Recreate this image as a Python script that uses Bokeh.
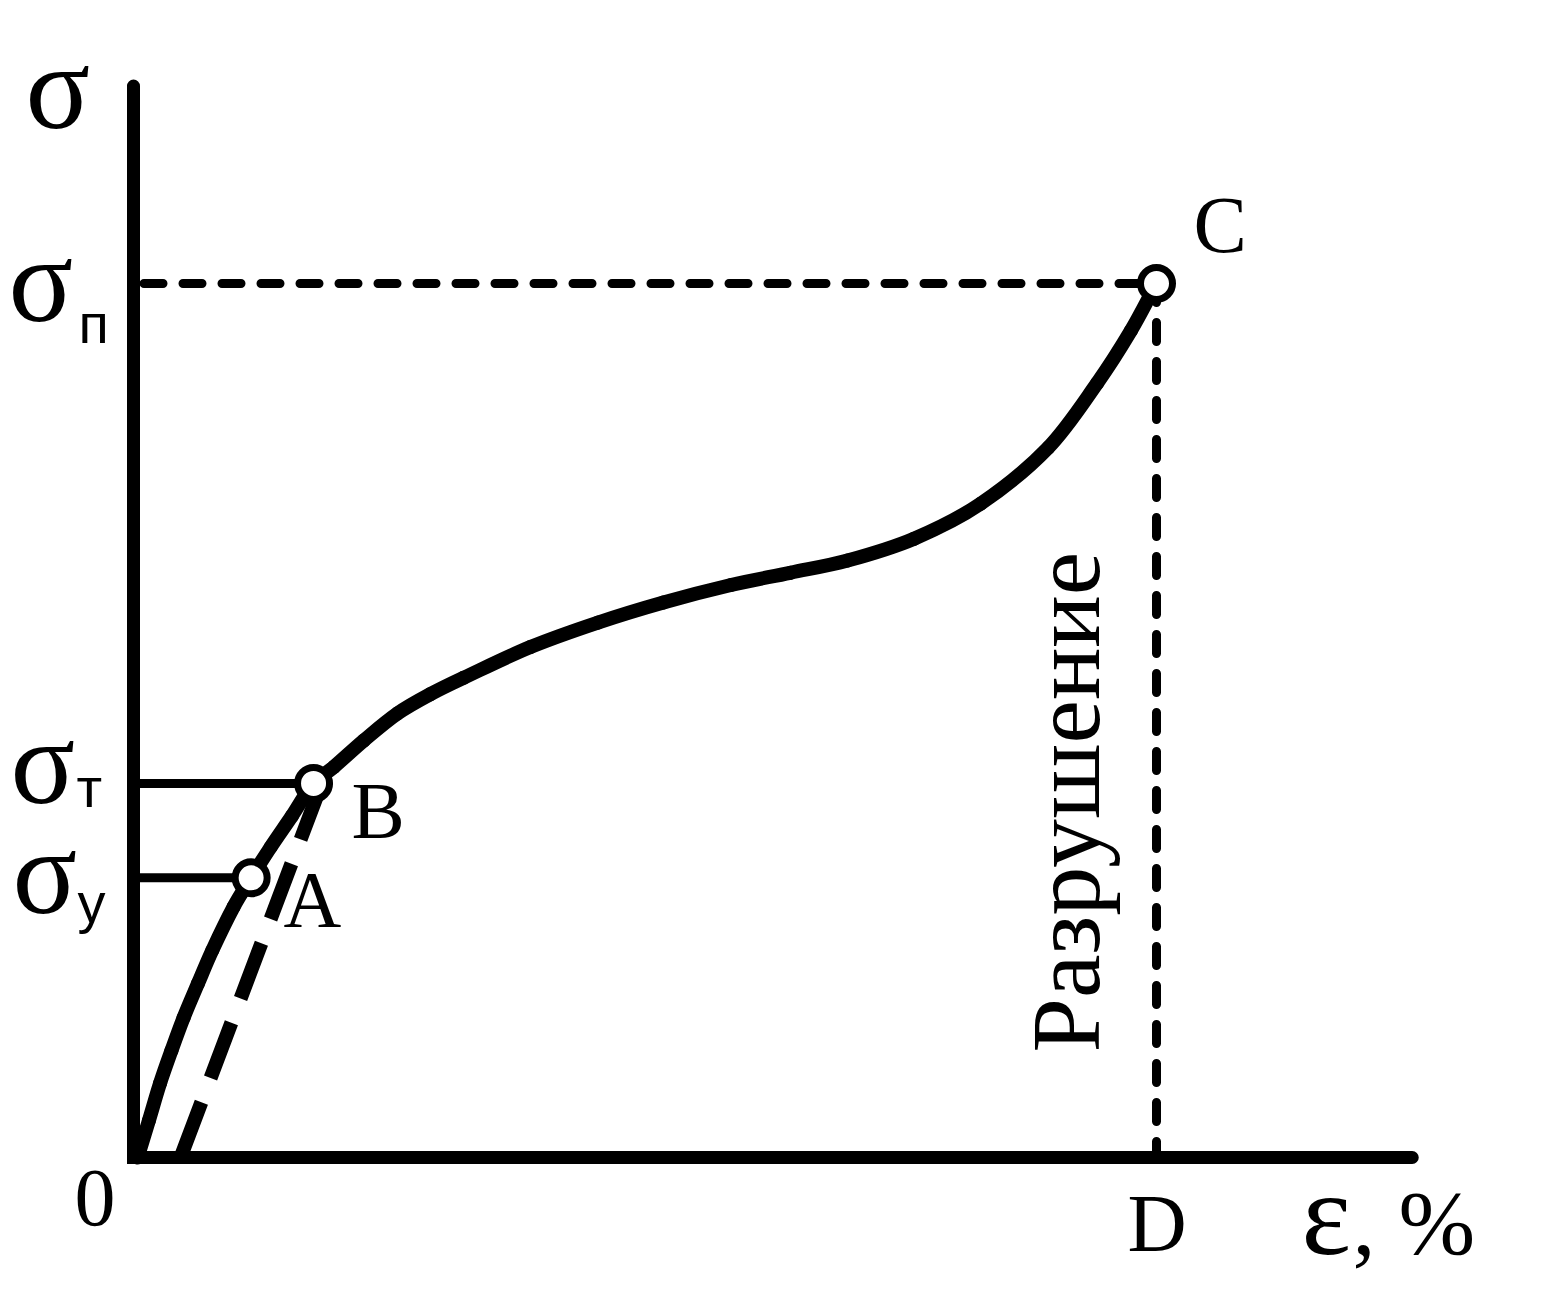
from bokeh.plotting import figure
from bokeh.models import Range1d
from bokeh.core.properties import value
from bokeh.embed import file_html
from bokeh.resources import INLINE

# ---- data (relative units: strain at fracture D = 100, ultimate stress σп = 100) ----
eps_curve = [0.4, 1.5, 2.6, 3.7, 4.9, 6.3, 7.7, 9.8, 11.5, 13.4, 15.5, 17.6, 19.6,
             22.5, 25.8, 29.0, 32.3, 38.8, 45.4, 51.8, 58.4, 64.2, 69.8, 76.3,
             82.8, 89.4, 94.2, 97.5, 100.0]
sig_curve = [0.0, 4.2, 8.5, 12.2, 16.0, 19.9, 23.7, 28.7, 32.0, 35.5, 39.1, 42.8, 44.7,
             47.7, 50.8, 53.0, 54.9, 58.4, 61.2, 63.5, 65.5, 66.9, 68.3, 70.8,
             74.8, 81.2, 88.6, 94.6, 100.0]

point_names = ["A", "B", "C"]
point_eps = [11.5, 17.6, 100.0]
point_sig = [32.0, 42.8, 100.0]

sigma_y = 32.0      # σу (A)
sigma_t = 42.8      # σт (B)
sigma_u = 100.0     # σп (C)
eps_D = 100.0       # D

elastic_eps = [4.6, 18.4]
elastic_sig = [0.0, 42.8]

axis_eps_max = 125.0
axis_sig_max = 122.6

# ---- pixel helpers for label placement only ----
SX, SY = 10.23, 8.74
def px2x(px):
    return (px - 133) / SX
def py2y(py):
    return (1157 - py) / SY

W, H = 1557, 1289
p = figure(width=W, height=H,
           x_range=Range1d(px2x(0), px2x(W)),
           y_range=Range1d(py2y(H), py2y(0)),
           min_border=0, toolbar_location=None, output_backend="svg",
           x_axis_location=None, y_axis_location=None)
p.grid.visible = False
p.outline_line_color = None
p.background_fill_color = "white"
p.border_fill_color = "white"

# axes
p.line([0, 0, axis_eps_max], [axis_sig_max, 0, 0], line_color="black",
       line_width=13, line_cap="round", line_join="miter")

# σу and σт levels
p.line([0, point_eps[0]], [sigma_y, sigma_y], line_color="black", line_width=9)
p.line([0, point_eps[1]], [sigma_t, sigma_t], line_color="black", line_width=9)

# σп dashed level and D dashed drop
p.line([px2x(143.5), eps_D], [sigma_u, sigma_u], line_color="black", line_width=9,
       line_dash="19 20", line_cap="round")
p.line([eps_D, eps_D], [sigma_u, 0], line_color="black", line_width=9,
       line_dash="19 20", line_cap="round")

# main curve: smooth rendering through the read points (chord-length cardinal
# spline drawn with bezier glyphs)
n = len(eps_curve)
t = [0.0]
for i in range(1, n):
    dx = (eps_curve[i] - eps_curve[i - 1]) * SX
    dy = (sig_curve[i] - sig_curve[i - 1]) * SY
    t.append(t[-1] + (dx * dx + dy * dy) ** 0.5)
mx, my = [], []
for i in range(n):
    a = max(i - 1, 0)
    d = min(i + 1, n - 1)
    mx.append((eps_curve[d] - eps_curve[a]) / (t[d] - t[a]))
    my.append((sig_curve[d] - sig_curve[a]) / (t[d] - t[a]))
x0s, y0s, x1s, y1s, cx0s, cy0s, cx1s, cy1s = [], [], [], [], [], [], [], []
for i in range(n - 1):
    h = (t[i + 1] - t[i]) / 3
    x0s.append(eps_curve[i]); y0s.append(sig_curve[i])
    x1s.append(eps_curve[i + 1]); y1s.append(sig_curve[i + 1])
    cx0s.append(eps_curve[i] + mx[i] * h)
    cy0s.append(sig_curve[i] + my[i] * h)
    cx1s.append(eps_curve[i + 1] - mx[i + 1] * h)
    cy1s.append(sig_curve[i + 1] - my[i + 1] * h)
p.bezier(x0=x0s, y0=y0s, x1=x1s, y1=y1s, cx0=cx0s, cy0=cy0s, cx1=cx1s, cy1=cy1s,
         line_color="black", line_width=14, line_cap="round")

# elastic unloading dashed line
p.line(elastic_eps, elastic_sig, line_color="black", line_width=14,
       line_dash="59 26", line_cap="butt")

# points
p.scatter(point_eps, point_sig, marker="circle", size=32, line_width=7,
          line_color="black", fill_color="white")

serif = value("Liberation Serif")
sans = value("Liberation Sans")

def txt(bx, by, s, size, font=serif, angle=0.0):
    # bx, by: desired left / alphabetic baseline in page pixels; Bokeh places the
    # alphabetic baseline about 0.35*size lower, so compensate.
    if angle == 0.0:
        x, y = px2x(bx), py2y(by - 0.35 * size)
    else:
        x, y = px2x(bx - 0.39 * size), py2y(by)
    p.text(x=[x], y=[y], text=[s], text_font=font, text_font_size=f"{size}px",
           text_color="black", text_align="left", text_baseline="alphabetic",
           angle=angle)

# σ labels
txt(25, 129, "σ", 120)
txt(8, 322, "σ", 120)
txt(78, 343, "п", 56, sans)
txt(10, 804, "σ", 120)
txt(76, 807, "т", 56, sans)
txt(12, 914, "σ", 120)
txt(77, 922, "у", 56, sans)

# point labels
txt(283, 927, "A", 80)
txt(351, 838, "B", 80)
txt(1193, 252, "C", 80)
txt(1127, 1252, "D", 82)
txt(74, 1226, "0", 82)
txt(1301, 1255, "ε", 118)
txt(1352, 1255, ", %", 92)

# vertical label
txt(1104, 1052, "Разрушение", 98, angle=1.5708)

open("out.html", "w").write(file_html(p, INLINE))
